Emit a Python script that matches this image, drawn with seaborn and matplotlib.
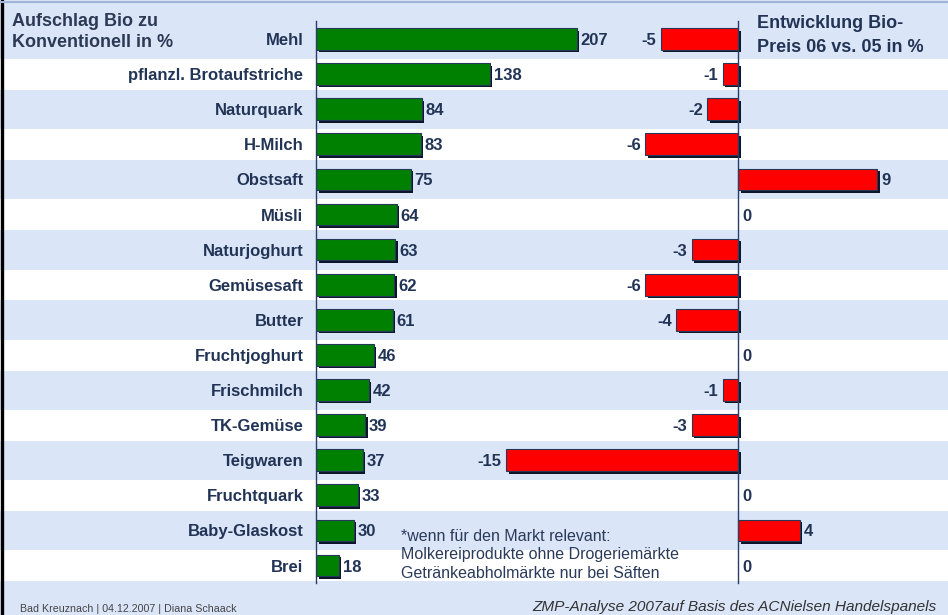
import matplotlib
matplotlib.use("Agg")
import matplotlib.pyplot as plt
import matplotlib.patheffects as pe
from matplotlib.lines import Line2D
import seaborn as sns
import pandas as pd

# data
products = [
    "Mehl", "pflanzl. Brotaufstriche", "Naturquark", "H-Milch", "Obstsaft",
    "Müsli", "Naturjoghurt", "Gemüsesaft", "Butter", "Fruchtjoghurt",
    "Frischmilch", "TK-Gemüse", "Teigwaren", "Fruchtquark", "Baby-Glaskost", "Brei",
]
markup = [207, 138, 84, 83, 75, 64, 63, 62, 61, 46, 42, 39, 37, 33, 30, 18]
change = [-5, -1, -2, -6, 9, 0, -3, -6, -4, 0, -1, -3, -15, 0, 4, 0]

left_title = ["Aufschlag Bio zu", "Konventionell in %"]
right_title = ["Entwicklung Bio-", "Preis 06 vs. 05 in %"]
footnote = [
    "*wenn für den Markt relevant:",
    "Molkereiprodukte ohne Drogeriemärkte",
    "Getränkeabholmärkte nur bei Säften",
]
footer_left = "Bad Kreuznach | 04.12.2007 | Diana Schaack"
footer_right = "ZMP-Analyse 2007auf Basis des ACNielsen Handelspanels"

GREEN = "#008000"
RED = "#ff0000"
SHADOW = "#0d1528"
NAVY = "#223456"
BAND = "#dbe5f8"

W, H = 948, 615
ROW0, ROWH = 39, 35.1  # pixel centre of first row and row pitch
ylim = ((H - ROW0) / ROWH, -ROW0 / ROWH)

sns.set_theme(style="white")
plt.rcParams["font.family"] = ["Liberation Sans", "DejaVu Sans"]

df = pd.DataFrame({"Produkt": products, "Aufschlag": markup, "Entwicklung": change})

fig = plt.figure(figsize=(W / 100, H / 100), dpi=100)
fig.patch.set_facecolor(BAND)


def fx(x):
    return x / W


def fy(y):
    return 1 - y / H


# background stripes
bg = fig.add_axes([0, 0, 1, 1])
bg.set_xlim(0, 1)
bg.set_ylim(*ylim)
bg.axis("off")
for i in range(1, len(products), 2):
    bg.axhspan(i - 0.43, i + 0.45, color="white", lw=0)

fig.add_artist(Line2D([0.0018, 0.0018], [0, 1], color="black", lw=2.4,
                      transform=fig.transFigure))
fig.add_artist(Line2D([0, 1], [fy(2), fy(2)], color="#9fb4d8", lw=1.5,
                      transform=fig.transFigure))


def style_bars(ax):
    for p in ax.patches:
        if p.get_width() == 0:
            p.set_linewidth(0)
            continue
        p.set_path_effects([
            pe.SimplePatchShadow(offset=(1.8, -1.8), shadow_rgbFace=SHADOW, alpha=1),
            pe.Normal(),
        ])


# left panel: markup
x0, x1 = 316, 700
ax1 = fig.add_axes([fx(x0), 0, fx(x1 - x0), 1])
sns.barplot(data=df, x="Aufschlag", y="Produkt", orient="h", color=GREEN,
            saturation=1, width=0.62, edgecolor="#26385a", linewidth=0.8, ax=ax1)
ax1.set_xlim(0, (x1 - x0) / 1.26)
ax1.set_ylim(*ylim)
ax1.patch.set_visible(False)
ax1.set_xlabel("")
ax1.set_ylabel("")
ax1.set_xticks([])
ax1.tick_params(axis="y", length=0, pad=9, labelsize=12, labelcolor=NAVY)
for t in ax1.get_yticklabels():
    t.set_fontweight("bold")
for s in ["top", "right", "bottom"]:
    ax1.spines[s].set_visible(False)
ax1.spines["left"].set_bounds(-0.5, 15.5)
ax1.spines["left"].set_color("#2a3d66")
ax1.spines["left"].set_linewidth(1)
style_bars(ax1)
for i, v in enumerate(markup):
    ax1.annotate(str(v), (v, i), xytext=(2.8, 0), textcoords="offset points",
                 ha="left", va="center_baseline", fontsize=12,
                 fontweight="bold", color=NAVY)

# right panel: price change
z, k = 738, 15.45
ax2 = fig.add_axes([fx(480), 0, fx(W - 480), 1])
sns.barplot(data=df, x="Entwicklung", y="Produkt", orient="h", color=RED,
            saturation=1, width=0.62, edgecolor="#26385a", linewidth=0.8, ax=ax2)
ax2.set_xlim(-(z - 480) / k, (W - z) / k)
ax2.set_ylim(*ylim)
ax2.patch.set_visible(False)
ax2.set_xlabel("")
ax2.set_ylabel("")
ax2.set_xticks([])
ax2.set_yticks([])
for s in ["top", "right", "bottom"]:
    ax2.spines[s].set_visible(False)
ax2.spines["left"].set_position(("data", 0))
ax2.spines["left"].set_bounds(-0.5, 15.5)
ax2.spines["left"].set_color("#2a3d66")
ax2.spines["left"].set_linewidth(1)
style_bars(ax2)
for i, v in enumerate(change):
    if v < 0:
        off, ha = -3.2, "right"
    else:
        off, ha = 3.0, "left"
    ax2.annotate(str(v), (v, i), xytext=(off, 0), textcoords="offset points",
                 ha=ha, va="center_baseline", fontsize=12,
                 fontweight="bold", color=NAVY)

# titles and notes
for line, y in zip(left_title, [25.5, 47]):
    fig.text(fx(12), fy(y), line, fontsize=13, fontweight="bold",
             color="#2c3a55", va="baseline")
for line, y in zip(right_title, [28.5, 51.5]):
    fig.text(fx(757), fy(y), line, fontsize=13, fontweight="bold",
             color=NAVY, va="baseline")
for line, y in zip(footnote, [541, 559.5, 578]):
    fig.text(fx(401), fy(y), line, fontsize=11.5, color="#2a3a5a", va="baseline")
fig.text(fx(20), fy(612), footer_left, fontsize=7.7, color="#444444", va="baseline")
fig.text(fx(532), fy(610.5), footer_right, fontsize=11.1, style="italic",
         color="#333333", va="baseline")

fig.savefig("out.png", dpi=100, facecolor=fig.get_facecolor())
